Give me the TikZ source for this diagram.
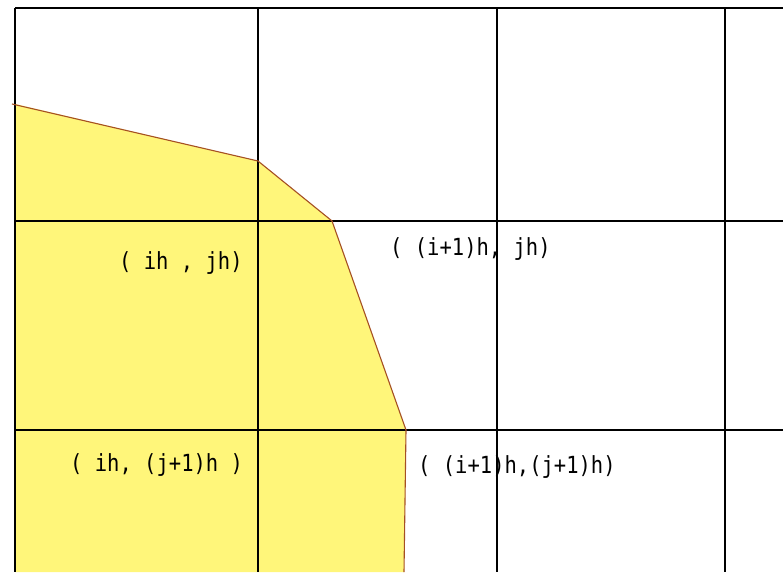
\documentclass[tikz,border=0pt]{standalone}
\usepackage{fontspec}
\newfontfamily\labfont{DejaVu Sans Mono}
\definecolor{regionfill}{RGB}{255,246,122}
\definecolor{regionedge}{RGB}{165,80,35}
\newcommand{\tallt}[1]{\scalebox{1}[1.15]{#1}}
\tikzset{
  gridline/.style={draw=black, line width=1.3pt},
  edge/.style={draw=regionedge, line width=1.1pt},
  lab/.style={anchor=west, inner sep=0pt, font=\labfont\fontsize{20.5}{24}\selectfont}
}
\begin{document}
\begin{tikzpicture}[x=1pt,y=-1pt]
\useasboundingbox (0,0) rectangle (783,572);
\fill[white] (0,0) rectangle (783,572);
% region
\fill[regionfill] (15,104) -- (258,161) -- (332,221) -- (406,430) -- (404,572) -- (15,572) -- cycle;
% grid
\draw[gridline] (15,8) -- (783,8);
\draw[gridline] (15,221) -- (783,221);
\draw[gridline] (15,430) -- (783,430);
\draw[gridline] (15,8) -- (15,572);
\draw[gridline] (258,8) -- (258,572);
\draw[gridline] (497,8) -- (497,572);
\draw[gridline] (725,8) -- (725,572);
% boundary
\draw[edge] (12,104) -- (258,161) -- (332,221) -- (406,430) -- (404,572);
% labels
\node[lab] (t1) at (119,263) {\tallt{( ih , jh)}};
\node[lab] (t2) at (390,249) {\tallt{( (i+1)h, jh)}};
\node[lab] (t3) at (70,465) {\tallt{( ih, (j+1)h )}};
\node[lab] (t4) at (418,467) {\tallt{( (i+1)h,(j+1)h)}};
\end{tikzpicture}
\end{document}
